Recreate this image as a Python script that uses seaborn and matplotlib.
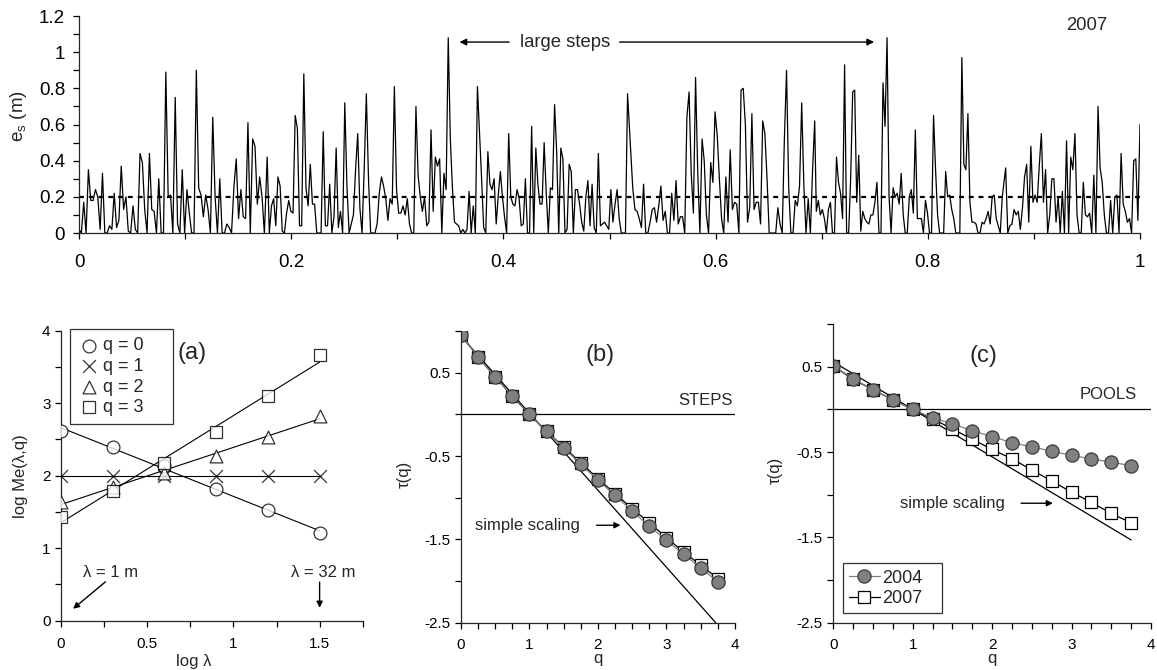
import numpy as np
import matplotlib
matplotlib.use('Agg')
import matplotlib.pyplot as plt
import seaborn as sns

es_seg1 = [0.02, 0.0, 0.17, 0.0, 0.35, 0.18, 0.18, 0.24, 0.2, 0.02, 0.33, 0.0, 0.0, 0.04, 0.02, 0.22,
           0.03, 0.07, 0.37, 0.13, 0.2, 0.01, 0.0, 0.15, 0.02, 0.0, 0.44, 0.39, 0.13, 0.0, 0.44, 0.13,
           0.12, 0.0, 0.3, 0.0, 0.0, 0.89, 0.2, 0.21, 0.0, 0.75, 0.05, 0.0, 0.35, 0.0, 0.24, 0.11,
           0.0, 0.0, 0.9, 0.25, 0.21, 0.09, 0.21, 0.13, 0.0, 0.64, 0.2, 0.0, 0.3, 0.0, 0.0, 0.05,
           0.03, 0.0, 0.25, 0.41, 0.08, 0.24, 0.09, 0.08, 0.61, 0.0, 0.52, 0.48, 0.16, 0.31, 0.2, 0.0]
es_seg2 = [0.09, 0.42, 0.0, 0.15, 0.19, 0.04, 0.31, 0.26, 0.01, 0.0, 0.11, 0.18, 0.12, 0.11, 0.65, 0.58,
           0.04, 0.04, 0.88, 0.25, 0.15, 0.38, 0.16, 0.16, 0.0, 0.0, 0.0, 0.56, 0.04, 0.04, 0.27, 0.0,
           0.09, 0.47, 0.03, 0.12, 0.0, 0.72, 0.26, 0.0, 0.05, 0.1, 0.35, 0.55, 0.14, 0.0, 0.35, 0.77,
           0.3, 0.0, 0.0, 0.0, 0.05, 0.22, 0.31, 0.26, 0.19, 0.07, 0.19, 0.16, 0.81, 0.24, 0.11, 0.11,
           0.15, 0.1, 0.19, 0.05, 0.0, 0.0, 0.7, 0.32, 0.2, 0.12, 0.2, 0.04, 0.06, 0.57, 0.12, 0.42,
           0.37, 0.41, 0.0, 0.33, 0.24]
es_seg3 = [1.08, 0.52, 0.25, 0.06, 0.05, 0.04, 0.0, 0.02, 0.0, 0.02, 0.23, 0.0, 0.15, 0.0, 0.81, 0.56,
           0.3, 0.03, 0.0, 0.45, 0.27, 0.24, 0.3, 0.05, 0.21, 0.34, 0.2, 0.09, 0.0, 0.55, 0.2, 0.16,
           0.15, 0.24, 0.19, 0.04, 0.05, 0.3, 0.0, 0.0, 0.59, 0.0, 0.47, 0.27, 0.16, 0.16, 0.5, 0.22,
           0.0, 0.25, 0.24, 0.71, 0.45, 0.0, 0.47, 0.41, 0.0, 0.02, 0.38, 0.34, 0.0, 0.24, 0.24, 0.16,
           0.06, 0.01, 0.2, 0.29, 0.04, 0.27, 0.03, 0.0, 0.44, 0.04, 0.05, 0.06, 0.04, 0.02, 0.24, 0.06,
           0.16, 0.24, 0.08, 0.0, 0.0, 0.0, 0.77]
es_seg4 = [0.25, 0.13, 0.12, 0.08, 0.03, 0.27, 0.0, 0.0, 0.06, 0.13, 0.14, 0.06, 0.15, 0.26, 0.07, 0.12,
           0.0, 0.0, 0.22, 0.07, 0.29, 0.05, 0.09, 0.09, 0.0, 0.64, 0.78, 0.33, 0.11, 0.86, 0.34, 0.0,
           0.52, 0.4, 0.1, 0.0, 0.39, 0.28, 0.67, 0.54, 0.3, 0.08, 0.0, 0.31, 0.06, 0.46, 0.13, 0.17,
           0.16, 0.0, 0.79, 0.8, 0.6, 0.06, 0.14, 0.66, 0.13, 0.17, 0.17, 0.05, 0.62, 0.55, 0.3, 0.0,
           0.0, 0.0, 0.0, 0.14, 0.05, 0.0, 0.52, 0.9, 0.25, 0.0, 0.0, 0.18, 0.15, 0.26, 0.72, 0.26,
           0.0, 0.19, 0.0, 0.34, 0.62]
es_seg5 = [0.12, 0.18, 0.1, 0.13, 0.08, 0.0, 0.13, 0.17, 0.0, 0.0, 0.42, 0.28, 0.22, 0.08, 0.93, 0.0,
           0.0, 0.3, 0.78, 0.79, 0.17, 0.43, 0.01, 0.12, 0.08, 0.06, 0.05, 0.1, 0.1, 0.17, 0.28, 0.0,
           0.0, 0.83, 0.59, 1.08, 0.2, 0.0, 0.25, 0.2, 0.22, 0.16, 0.33, 0.1, 0.0, 0.0, 0.2, 0.24,
           0.11, 0.57, 0.08, 0.08, 0.08, 0.0, 0.18, 0.11, 0.0, 0.0, 0.65, 0.35, 0.1, 0.0, 0.0, 0.0,
           0.34, 0.2, 0.21, 0.13, 0.08, 0.0, 0.0, 0.0, 0.97, 0.38, 0.35, 0.66, 0.17, 0.06, 0.06, 0.05,
           0.0, 0.0, 0.06, 0.05, 0.08, 0.12, 0.05, 0.2, 0.21, 0.08, 0.04, 0.0, 0.2]
es_seg6 = [0.36, 0.0, 0.04, 0.05, 0.13, 0.1, 0.12, 0.02, 0.14, 0.31, 0.38, 0.06, 0.48, 0.17, 0.21, 0.17,
           0.37, 0.55, 0.17, 0.35, 0.0, 0.1, 0.3, 0.3, 0.06, 0.2, 0.0, 0.23, 0.0, 0.51, 0.0, 0.42,
           0.35, 0.55, 0.1, 0.0, 0.0, 0.28, 0.1, 0.09, 0.11, 0.0, 0.32, 0.0, 0.7, 0.36, 0.28, 0.1,
           0.0, 0.0, 0.18, 0.0, 0.2, 0.21, 0.0, 0.44, 0.16, 0.12, 0.06, 0.08, 0.0, 0.4, 0.41, 0.07, 0.6]
# start / end position of each stretch along the reach
seg_start = [0.0, 0.1753, 0.348, 0.5219, 0.6949, 0.8734]
seg_end = [0.1747, 0.346, 0.517, 0.6934, 0.8702, 1.0]
es_threshold = 0.2

# ---- panel (a): log Me(lambda, q) ----
log_lam = [0, 0.3, 0.6, 0.9, 1.2, 1.5]
me_q0 = [2.62, 2.39, 2.14, 1.82, 1.53, 1.21]
me_q1 = [2.0, 2.0, 2.0, 2.0, 2.0, 2.0]
me_q2 = [1.64, 1.84, 2.04, 2.27, 2.54, 2.83]
me_q3 = [1.43, 1.79, 2.18, 2.60, 3.10, 3.66]

# ---- panels (b) and (c): tau(q) ----
q = [0, 0.25, 0.5, 0.75, 1.0, 1.25, 1.5, 1.75, 2.0, 2.25, 2.5, 2.75, 3.0, 3.25, 3.5, 3.75]
tau_steps_2004 = [0.96, 0.69, 0.45, 0.22, 0.0, -0.20, -0.40, -0.60, -0.79, -0.97, -1.16, -1.34,
                  -1.51, -1.68, -1.84, -2.01]
tau_steps_2007 = [0.96, 0.69, 0.45, 0.22, 0.0, -0.20, -0.39, -0.58, -0.77, -0.95, -1.13, -1.30,
                  -1.48, -1.65, -1.81, -1.97]
tau_pools_2004 = [0.51, 0.36, 0.23, 0.11, 0.0, -0.10, -0.17, -0.25, -0.32, -0.39, -0.44, -0.49,
                  -0.54, -0.58, -0.62, -0.66]
tau_pools_2007 = [0.51, 0.35, 0.23, 0.11, 0.0, -0.11, -0.23, -0.35, -0.47, -0.58, -0.71, -0.84,
                  -0.97, -1.09, -1.22, -1.33]
simple_q_steps = [0, 3.72]
simple_tau_steps = [0.94, -2.5]
simple_q_pools = [0, 3.75]
simple_tau_pools = [0.556, -1.53]

sns.set_style('ticks')
plt.rcParams['font.family'] = ['Liberation Sans', 'DejaVu Sans']
plt.rcParams['mathtext.fontset'] = 'custom'
plt.rcParams['mathtext.rm'] = 'Liberation Sans'
plt.rcParams['axes.linewidth'] = 0.9

fig = plt.figure(figsize=(11.57, 6.70), dpi=100)

tick_kw = dict(direction='out', length=4, width=0.9, color='k', labelsize=11, labelcolor='k')

# ---------------- top panel ----------------
ax = fig.add_axes([0.0683, 0.6522, 0.917, 0.3239])
x_top = np.concatenate([np.linspace(s, e, len(v)) for s, e, v in
                        zip(seg_start, seg_end, [es_seg1, es_seg2, es_seg3, es_seg4, es_seg5, es_seg6])])
y_top = np.concatenate([es_seg1, es_seg2, es_seg3, es_seg4, es_seg5, es_seg6])
sns.lineplot(x=x_top, y=y_top, color='k', lw=0.9, estimator=None, ax=ax)
ax.axhline(es_threshold, color='k', lw=1.6, ls=(0, (2.2, 2.2)))
ax.set_xlim(0, 1)
ax.set_ylim(0, 1.2)
ax.set_xticks(np.round(np.arange(0, 1.01, 0.1), 2))
ax.set_xticklabels(['0', '', '0.2', '', '0.4', '', '0.6', '', '0.8', '', '1'])
ax.set_yticks(np.round(np.arange(0, 1.21, 0.1), 2))
ax.set_yticklabels(['0', '', '0.2', '', '0.4', '', '0.6', '', '0.8', '', '1', '', '1.2'])
ax.tick_params(**dict(tick_kw, labelsize=13.5))
ax.tick_params(axis='x', pad=11)
ax.tick_params(axis='y', pad=6)
for s in ['top', 'right']:
    ax.spines[s].set_visible(False)
ax.set_xlabel('')
ax.set_ylabel(r'e$_\mathregular{s}$ (m)', fontsize=13.5)
ax.yaxis.set_label_coords(-0.047, 0.54)
ax.annotate('', xy=(0.356, 1.056), xytext=(0.408, 1.056),
            arrowprops=dict(arrowstyle='-|>', color='k', lw=1.0, mutation_scale=10))
ax.annotate('', xy=(0.752, 1.056), xytext=(0.507, 1.056),
            arrowprops=dict(arrowstyle='-|>', color='k', lw=1.0, mutation_scale=10))
ax.text(0.458, 1.056, 'large steps', ha='center', va='center', fontsize=13.3)
ax.text(0.95, 1.145, '2007', ha='center', va='center', fontsize=13.3)

# ---------------- panel (a) ----------------
ax_a = fig.add_axes([0.0527, 0.0736, 0.2608, 0.4328])
series_a = [(me_q0, 'o', 'q = 0', 'white'), (me_q1, 'x', 'q = 1', 'k'),
            (me_q2, '^', 'q = 2', 'white'), (me_q3, 's', 'q = 3', 'white')]
for vals, mk, lab, fc in series_a:
    sns.regplot(x=log_lam, y=vals, ci=None, marker=mk, ax=ax_a, label=lab,
                scatter_kws=dict(s=85, facecolors=fc, edgecolors='k', linewidths=0.9, zorder=3),
                line_kws=dict(color='k', lw=0.8))
ax_a.set_xlim(0, 1.75)
ax_a.set_ylim(0, 4)
ax_a.set_xticks(np.arange(0, 1.76, 0.25))
ax_a.set_xticklabels(['0', '', '0.5', '', '1', '', '1.5', ''])
ax_a.set_yticks(np.arange(0, 4.01, 0.5))
ax_a.set_yticklabels(['0', '', '1', '', '2', '', '3', '', '4'])
ax_a.tick_params(**tick_kw)
ax_a.tick_params(axis='x', pad=8)
for s in ['top', 'right']:
    ax_a.spines[s].set_visible(False)
ax_a.set_xlabel('log λ', fontsize=12)
ax_a.set_ylabel('log Me(λ,q)', fontsize=12)
ax_a.xaxis.set_label_coords(0.44, -0.115)
ax_a.yaxis.set_label_coords(-0.11, 0.5)
leg = ax_a.legend(loc='upper left', bbox_to_anchor=(0.03, 0.685, 0.341, 0.32), mode='expand',
                  borderaxespad=0, fontsize=13, frameon=True, fancybox=False, handlelength=1.2,
                  handletextpad=0.15, labelspacing=0.2, borderpad=0.45)
leg.get_frame().set_edgecolor('k')
leg.get_frame().set_linewidth(0.9)
ax_a.text(0.76, 3.69, '(a)', fontsize=17, ha='center', va='center')
ax_a.text(0.285, 0.67, 'λ = 1 m', fontsize=12, ha='center', va='center')
ax_a.annotate('', xy=(0.058, 0.14), xytext=(0.27, 0.56),
              arrowprops=dict(arrowstyle='-|>', color='k', lw=1.0, mutation_scale=9))
ax_a.text(1.52, 0.67, 'λ = 32 m', fontsize=12, ha='center', va='center')
ax_a.annotate('', xy=(1.5, 0.14), xytext=(1.5, 0.57),
              arrowprops=dict(arrowstyle='-|>', color='k', lw=1.0, mutation_scale=9))


def tau_panel(axp, t04, t07, sq, st, tag, tag_xy, word, word_x, simple_xy, arrow_x):
    sns.lineplot(x=sq, y=st, color='k', lw=0.9, ax=axp)
    axp.axhline(0, color='k', lw=0.9)
    sns.lineplot(x=q, y=t07, color='k', lw=0.9, marker='s', markersize=9,
                 markerfacecolor='white', markeredgecolor='k', markeredgewidth=0.9,
                 ax=axp, label='2007')
    sns.lineplot(x=q, y=t04, color='#7f7f7f', lw=0.9, marker='o', markersize=9.5,
                 markerfacecolor='#808080', markeredgecolor='#3a3a3a', markeredgewidth=0.9,
                 ax=axp, label='2004')
    axp.set_xlim(0, 4)
    axp.set_ylim(-2.5, 1.0)
    axp.set_xticks(np.arange(0, 4.01, 0.25))
    axp.set_xticklabels(['0', '', '', '', '1', '', '', '', '2', '', '', '', '3', '', '', '', '4'])
    axp.set_yticks(np.arange(-2.5, 1.01, 0.5))
    axp.set_yticklabels(['-2.5', '', '-1.5', '', '-0.5', '', '0.5', ''])
    axp.tick_params(**tick_kw)
    axp.tick_params(axis='x', pad=7)
    for s in ['top', 'right']:
        axp.spines[s].set_visible(False)
    axp.set_xlabel('q', fontsize=12)
    axp.set_ylabel('τ(q)', fontsize=12)
    axp.text(tag_xy[0], tag_xy[1], tag, fontsize=17, ha='center', va='center')
    axp.text(word_x, 0.17, word, fontsize=12, ha='right', va='center')
    axp.text(simple_xy[0], simple_xy[1], 'simple scaling', fontsize=12, ha='center', va='center')
    axp.annotate('', xy=(arrow_x[1], simple_xy[1]), xytext=(arrow_x[0], simple_xy[1]),
                 arrowprops=dict(arrowstyle='-|>', color='k', lw=1.0, mutation_scale=9))


ax_b = fig.add_axes([0.3984, 0.0706, 0.2368, 0.4351])
tau_panel(ax_b, tau_steps_2004, tau_steps_2007, simple_q_steps, simple_tau_steps,
          '(b)', (2.03, 0.71), 'STEPS', 3.97, (0.97, -1.33), (1.94, 2.37))
ax_b.get_legend().remove()
ax_b.xaxis.set_label_coords(0.5, -0.098)
ax_b.yaxis.set_label_coords(-0.178, 0.51)

ax_c = fig.add_axes([0.7202, 0.0706, 0.2746, 0.4458])
tau_panel(ax_c, tau_pools_2004, tau_pools_2007, simple_q_pools, simple_tau_pools,
          '(c)', (1.89, 0.63), 'POOLS', 3.82, (1.5, -1.1), (2.33, 2.8))
h, l = ax_c.get_legend_handles_labels()
order = [l.index('2004'), l.index('2007')]
leg_c = ax_c.legend([h[i] for i in order], [l[i] for i in order], loc='lower left',
                    bbox_to_anchor=(0.03, 0.031, 0.312, 0.16), mode='expand', borderaxespad=0,
                    fontsize=13, frameon=True, fancybox=False, handlelength=1.7,
                    handletextpad=0.15, labelspacing=0.2, borderpad=0.35)
leg_c.get_frame().set_edgecolor('k')
leg_c.get_frame().set_linewidth(0.9)
ax_c.xaxis.set_label_coords(0.5, -0.096)
ax_c.yaxis.set_label_coords(-0.158, 0.51)

fig.savefig('out.png', dpi=100)
